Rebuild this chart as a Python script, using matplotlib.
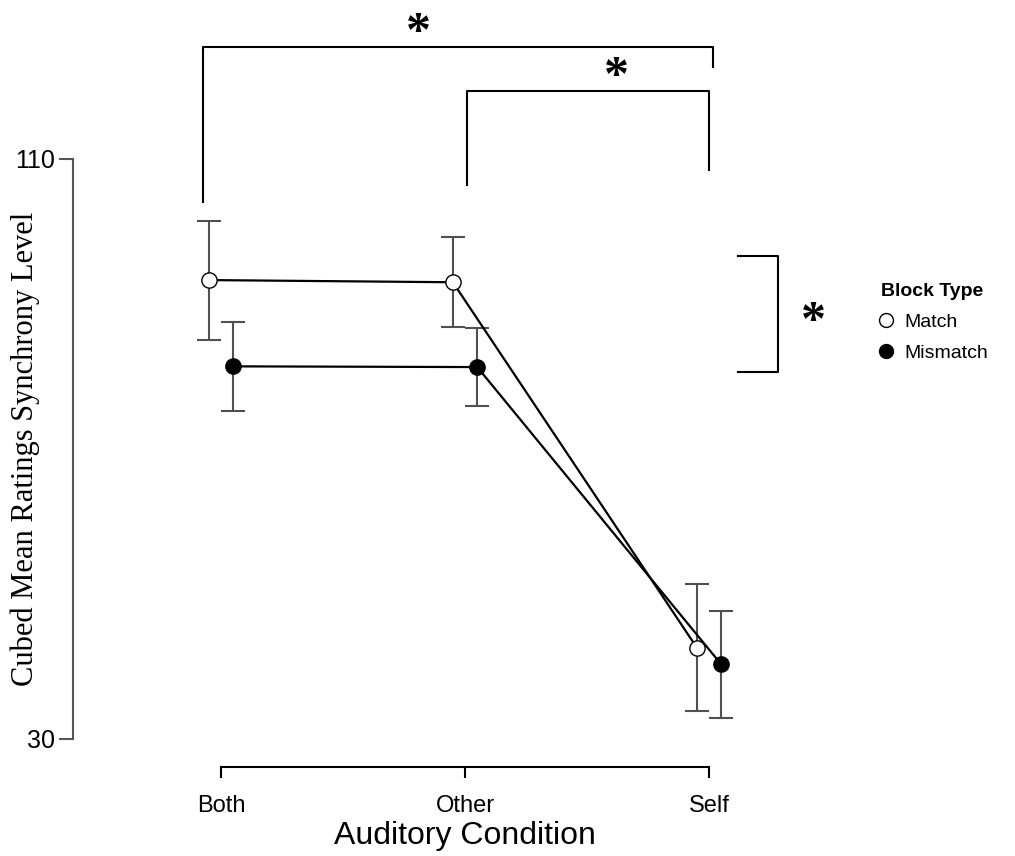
import matplotlib
matplotlib.use("Agg")
import matplotlib.pyplot as plt
import numpy as np

# condition means (cubed ratings) with error bar half-widths
conditions = ["Both", "Other", "Self"]
match_mean = [93.3, 93.0, 42.6]
match_err = [8.2, 6.2, 8.8]
mismatch_mean = [81.4, 81.3, 40.3]
mismatch_err = [6.1, 5.4, 7.4]

sans = "Liberation Sans"
serif = "Liberation Serif"

fig = plt.figure(figsize=(10.15, 8.56), dpi=100)
ax = fig.add_axes([73 / 1015, 117 / 856, 687 / 1015, 580 / 856])

x = np.arange(1, len(conditions) + 1)
dodge = 0.05
ecol = "#505050"

ax.errorbar(x - dodge, match_mean, yerr=match_err, fmt="none", ecolor=ecol,
            elinewidth=1.5, capsize=8.5, capthick=1.5, zorder=2)
ax.errorbar(x + dodge, mismatch_mean, yerr=mismatch_err, fmt="none", ecolor=ecol,
            elinewidth=1.5, capsize=8.5, capthick=1.5, zorder=2)
ax.plot(x - dodge, match_mean, color="black", lw=1.6, marker="o", ms=11,
        mfc="white", mec="black", mew=1.0, zorder=3, label="Match")
ax.plot(x + dodge, mismatch_mean, color="black", lw=1.6, marker="o", ms=11,
        mfc="black", mec="black", mew=1.0, zorder=4, label="Mismatch")

xmin, xmax = 0.393, 3.209
ax.set_xlim(xmin, xmax)
ax.set_ylim(30, 110)

# axis styling: detached axis lines
for s in ["top", "right"]:
    ax.spines[s].set_visible(False)
ax.spines["left"].set_color("#555555")
ax.spines["left"].set_linewidth(1.5)
ax.spines["left"].set_bounds(30, 110)
ax.spines["bottom"].set_position(("outward", 20))
ax.spines["bottom"].set_bounds(1, 3)
ax.spines["bottom"].set_linewidth(1.5)

ax.set_yticks([30, 110])
ax.set_yticklabels(["30", "110"], fontfamily=sans, fontsize=18)
ax.set_xticks(x)
ax.set_xticklabels(conditions, fontfamily=sans, fontsize=17)
ax.tick_params(axis="y", length=10, width=1.5, color="#555555", pad=3)
ax.tick_params(axis="x", direction="out", length=8, width=1.5, pad=12)

# x label centred under the middle condition
ax.set_xlabel("Auditory Condition", fontfamily=sans, fontsize=23)
ax.xaxis.set_label_coords((2 - xmin) / (xmax - xmin), -0.142)
fig.text(25 / 1015, 1 - 449 / 856, "Cubed Mean Ratings Synchrony Level",
         fontfamily=serif, fontsize=22, rotation=90, ha="center", va="center")

# significance brackets
def bracket(x0, x1, ytop, y0, y1):
    ax.plot([x0, x0, x1, x1], [y0, ytop, ytop, y1], color="black", lw=1.5,
            clip_on=False, solid_capstyle="butt")

bracket(0.926, 3.016, 125.45, 103.9, 122.5)
bracket(2.008, 3.0, 119.4, 106.3, 108.3)
ax.plot([3.119, 3.283, 3.283, 3.119], [96.6, 96.6, 80.6, 80.6], color="black",
        lw=1.5, clip_on=False)

star_kw = dict(fontfamily=serif, fontsize=36, fontweight="bold",
               ha="center", va="center", clip_on=False)
ax.text(1.81, 127.3, "*", **star_kw)
ax.text(2.62, 121.2, "*", **star_kw)
ax.text(3.43, 87.4, "*", **star_kw)

leg = ax.legend(title="Block Type", loc="upper left", bbox_to_anchor=(0.858, 0.681),
                bbox_transform=fig.transFigure, frameon=False, handlelength=0.6,
                handletextpad=0.6, labelspacing=0.7, borderpad=0,
                prop={"family": sans, "size": 14},
                title_fontproperties={"family": sans, "size": 14, "weight": "bold"},
                alignment="left")
for h in leg.legend_handles:
    h.set_linestyle("none")
    h.set_markersize(10)

fig.savefig("out.png", dpi=100)
